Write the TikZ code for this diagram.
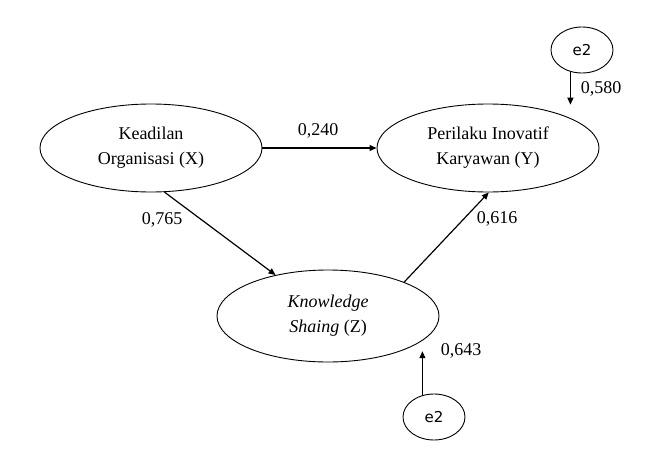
\documentclass[tikz,border=0pt]{standalone}
\usepackage{fontspec}
\setmainfont{Liberation Serif}
\newfontfamily\errfont{DejaVu Sans}
\usetikzlibrary{shapes.geometric,arrows.meta}
\begin{document}
\begin{tikzpicture}[x=1pt,y=-1pt,
  latent/.style={draw, line width=0.9pt, ellipse, minimum width=222pt, minimum height=88pt, inner sep=0pt, align=center, font=\fontsize{18}{25}\selectfont},
  errnode/.style={draw, line width=0.9pt, ellipse, minimum width=62pt, minimum height=46pt, inner sep=0pt, font=\errfont\fontsize{15}{18}\selectfont},
  path/.style={line width=1.2pt, -{Triangle[length=7pt,width=6pt]}},
  coef/.style={font=\fontsize{18}{22}\selectfont}]
\useasboundingbox (0,0) rectangle (656,460);
\node[latent] (X) at (151,148) {Keadilan\\Organisasi (X)};
\node[latent] (Y) at (488,148) {Perilaku Inovatif\\Karyawan (Y)};
\node[latent, minimum height=92pt] (Z) at (328,316) {\textit{Knowledge}\\\textit{Shaing} (Z)};
\node[errnode] (e1) at (582,50) {e2};
\node[errnode] (e3) at (434,417) {e2};
\draw[path] (X.east) -- (Y.west);
\draw[path] (X.-73) -- (Z.142);
\draw[path] (Z.24) -- (Y.-89);
\draw[path] (e1.-118) -- (e1.-118 |- Y.60);
\draw[path] (e3.118) -- ++(0,-44);
\node[coef] at (318,131) {0,240};
\node[coef] at (162,220) {0,765};
\node[coef] at (497,219) {0,616};
\node[coef] at (601,89) {0,580};
\node[coef] at (461,351) {0,643};
\end{tikzpicture}
\end{document}
